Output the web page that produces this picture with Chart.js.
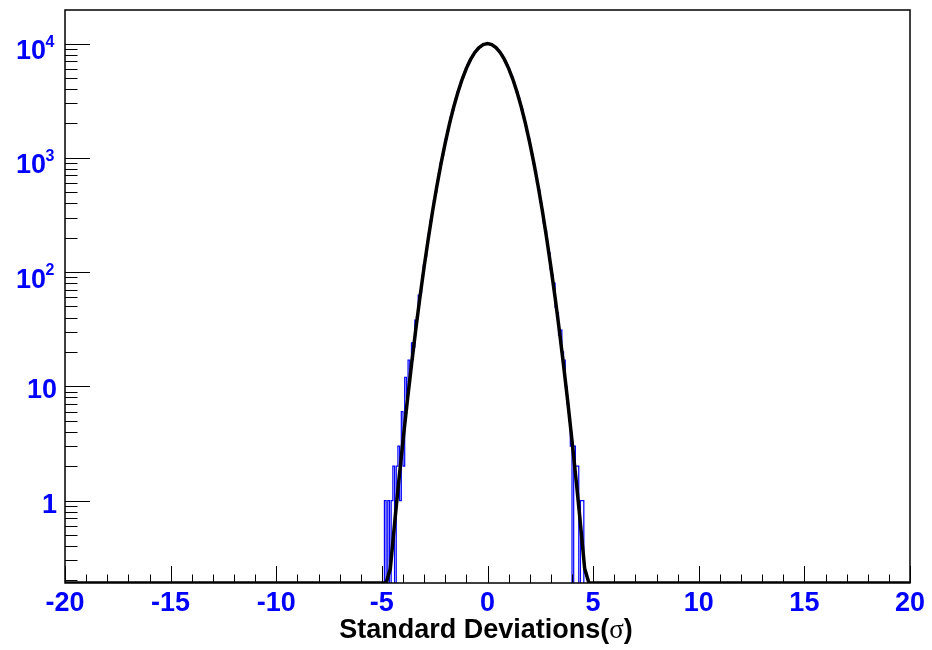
<!DOCTYPE html>
<html><head><meta charset="utf-8">
<script src="https://cdn.jsdelivr.net/npm/chart.js@4.4.0/dist/chart.umd.min.js"></script>
<style>html,body{margin:0;padding:0;background:#fff;}canvas{display:block;}</style>
</head><body>
<canvas id="c" width="932" height="650"></canvas>
<script>
// ---- data ----
const binWidth = 0.08;
const firstBinCenter = -4.92;
const histCounts = [
  0,1,0,1,0,1,2,0,2,3,1,6,2,12,8,17,14,24,22,38,41,63,66,92,115,137,183,219,281,336,
  425,503,628,735,897,1049,1261,1454,1721,1968,2291,2597,2978,3331,3770,4169,4655,5087,5602,6041,
  6571,7004,7515,7911,8379,8710,9102,9350,9641,9781,9955,9968,
  10015,9904,9827,9593,9398,9051,8760,8329,7961,7468,7051,6527,6089,5558,5126,4613,4204,3731,3362,2944,
  2621,2263,1994,1695,1480,1236,1069,878,756,606,521,409,351,268,229,171,148,106,94,80,
  49,44,28,31,20,17,10,7,5,3,0,3,2,2,0,1,1,0
];
const fitX = [-20,
  -5.0,-4.8,-4.6,-4.4,-4.2,-4.0,-3.8,-3.6,-3.4,-3.2,-3.0,-2.8,-2.6,-2.4,-2.2,-2.0,-1.8,-1.6,-1.4,-1.2,-1.0,-0.8,-0.6,-0.4,-0.2,
  0,
  0.2,0.4,0.6,0.8,1.0,1.2,1.4,1.6,1.8,2.0,2.2,2.4,2.6,2.8,3.0,3.2,3.4,3.6,3.8,4.0,4.2,4.4,4.6,4.8,5.0,
  20];
const fitY = [0,
  0.0373,0.0993,0.254,0.625,1.48,3.35,7.32,15.3,30.9,59.8,111,198,340,561,889,1353,1979,2780,3753,4868,6065,7261,8353,9231,9802,
  10000,
  9802,9231,8353,7261,6065,4868,3753,2780,1979,1353,889,561,340,198,111,59.8,30.9,15.3,7.32,3.35,1.48,0.625,0.254,0.0993,0.0373,
  0];
const xMin = -20, xMax = 20;
const yMin = 0.19, yMax = 19650;
const xTickValues = [-20,-15,-10,-5,0,5,10,15,20];
const xTickLabels = ['-20','-15','-10','-5','0','5','10','15','20'];
const yTickValues = [1,10,100,1000,10000];
const yTickBase = ['1','10','10','10','10'];
const yTickExp = ['','','2','3','4'];
const xTitle = 'Standard Deviations(σ)';

// ---- build library tables ----
const histPoints = histCounts.map((c,i)=>({x:+(firstBinCenter+i*binWidth).toFixed(2), y:c>0?c:yMin*0.2}));
const fitPoints = fitX.map((x,i)=>({x:x, y:Math.max(fitY[i], yMin)}));

const FONT = '"Liberation Sans", Arial, Helvetica, sans-serif';

const rootStyle = {
  id:'rootStyle',
  beforeDraw(chart){
    const ctx=chart.ctx; ctx.save(); ctx.fillStyle='#fff'; ctx.fillRect(0,0,chart.width,chart.height); ctx.restore();
  },
  afterDraw(chart){
    const ctx=chart.ctx, a=chart.chartArea, xs=chart.scales.x, ys=chart.scales.y;
    ctx.save();
    ctx.strokeStyle='#000';
    // ticks
    ctx.lineWidth=1;
    ctx.beginPath();
    for(let v=xMin; v<=xMax; v+=1){
      const px=Math.round(xs.getPixelForValue(v))+0.5;
      const len = (v%5===0)?17:8.5;
      ctx.moveTo(px,a.bottom); ctx.lineTo(px,a.bottom-len);
    }
    for(let d=-1; d<=4; d++){
      for(let m=1; m<=9; m++){
        const v=m*Math.pow(10,d);
        if(v<yMin||v>yMax) continue;
        const py=Math.round(ys.getPixelForValue(v))+0.5;
        const len=(m===1)?25:12.5;
        ctx.moveTo(a.left,py); ctx.lineTo(a.left+len,py);
      }
    }
    ctx.stroke();
    // frame
    ctx.lineWidth=1.5;
    ctx.strokeRect(a.left,a.top,a.right-a.left,a.bottom-a.top);
    // x labels
    ctx.fillStyle='#0000ff';
    ctx.font='bold 27px '+FONT;
    ctx.textAlign='center'; ctx.textBaseline='alphabetic';
    xTickValues.forEach((v,i)=>{ ctx.fillText(xTickLabels[i], xs.getPixelForValue(v), 611); });
    // y labels
    yTickValues.forEach((v,i)=>{
      const py=ys.getPixelForValue(v);
      if(!yTickExp[i]){
        ctx.font='bold 27px '+FONT; ctx.textAlign='right';
        ctx.fillText(yTickBase[i], 57, py+12);
      } else {
        ctx.font='bold 16px '+FONT; ctx.textAlign='right';
        const ew=ctx.measureText(yTickExp[i]).width;
        ctx.fillText(yTickExp[i], 54.5, py+3);
        ctx.font='bold 27px '+FONT;
        ctx.fillText(yTickBase[i], 54.5-ew+0.5, py+15.5);
      }
    });
    // x title
    const parts = xTitle.split('σ');
    const fB='bold 27px '+FONT, fS='27px "Liberation Serif", "DejaVu Serif", serif';
    ctx.fillStyle='#000'; ctx.textAlign='left';
    ctx.font=fB; const w1=ctx.measureText(parts[0]).width, w3=ctx.measureText(parts[1]).width;
    ctx.font=fS; const w2=ctx.measureText('σ').width;
    let x0 = 486 - (w1+w2+w3)/2;
    ctx.font=fB; ctx.fillText(parts[0], x0, 638);
    ctx.font=fS; ctx.fillText('σ', x0+w1, 638);
    ctx.font=fB; ctx.fillText(parts[1], x0+w1+w2, 638);
    ctx.restore();
  }
};

new Chart(document.getElementById('c'), {
  type:'line',
  data:{datasets:[
    {label:'fit', data:fitPoints, borderColor:'#000', borderWidth:3.5, pointRadius:0, tension:0, order:0, fill:false},
    {label:'hist', data:histPoints, borderColor:'#0000ff', borderWidth:1.2, pointRadius:0, stepped:'middle', order:1, fill:false}
  ]},
  options:{
    responsive:false, animation:false, devicePixelRatio:1,
    layout:{padding:{left:65, top:10, right:22, bottom:67}},
    plugins:{legend:{display:false}, tooltip:{enabled:false}},
    scales:{
      x:{type:'linear', min:xMin, max:xMax, display:false},
      y:{type:'logarithmic', min:yMin, max:yMax, display:false}
    }
  },
  plugins:[rootStyle]
});
</script>
</body></html>
